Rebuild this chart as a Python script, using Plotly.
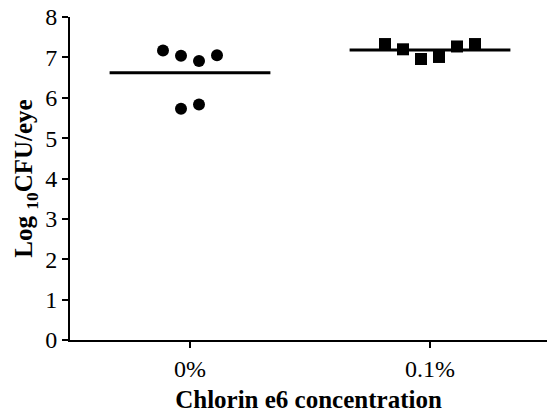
import plotly.graph_objects as go

# Data
categories = ["0%", "0.1%"]
ctrl_values = [7.17, 7.04, 6.91, 7.05, 5.73, 5.83]
ce6_values = [7.33, 7.20, 6.96, 7.01, 7.27, 7.33]
y_ticks = [0, 1, 2, 3, 4, 5, 6, 7, 8]

# beeswarm-like horizontal placement (layout only)
step = 0.075
ctrl_slots = [-1.5, -0.5, 0.5, 1.5, -0.5, 0.5]
ce6_slots = [-2.5, -1.5, -0.5, 0.5, 1.5, 2.5]

FONT = "Liberation Serif, Times New Roman, serif"

fig = go.Figure()
fig.add_trace(go.Scatter(
    x=[0 + s * step for s in ctrl_slots], y=ctrl_values, mode="markers",
    marker=dict(symbol="circle", size=12, color="black"), showlegend=False))
fig.add_trace(go.Scatter(
    x=[1 + s * step for s in ce6_slots], y=ce6_values, mode="markers",
    marker=dict(symbol="square", size=12, color="black"), showlegend=False))

half = 0.335
for i, vals in enumerate([ctrl_values, ce6_values]):
    m = sum(vals) / len(vals)
    fig.add_trace(go.Scatter(x=[i - half, i + half], y=[m, m], mode="lines",
                             line=dict(color="black", width=3), showlegend=False,
                             hoverinfo="skip"))

fig.update_layout(
    width=547, height=414,
    margin=dict(l=70, r=0, t=17, b=74),
    plot_bgcolor="white", paper_bgcolor="white",
    font=dict(family=FONT, color="black", size=24),
    xaxis=dict(range=[-0.5, 1.4875], tickvals=[0, 1], ticktext=categories,
               showline=True, linecolor="black", linewidth=2,
               ticks="outside", ticklen=6, tickwidth=2, tickcolor="black",
               showgrid=False, zeroline=False, automargin=False,
               tickfont=dict(family=FONT, size=24),
               title=dict(text="<b>Chlorin e6 concentration</b>",
                          font=dict(family=FONT, size=25), standoff=10)),
    yaxis=dict(range=[0, 8], tickvals=y_ticks,
               showline=True, linecolor="black", linewidth=2,
               ticks="outside", ticklen=6, tickwidth=2, tickcolor="black",
               showgrid=False, zeroline=False, automargin=False,
               tickfont=dict(family=FONT, size=24),
               title=dict(text="<b>Log <sub>10</sub>CFU/eye</b>",
                          font=dict(family=FONT, size=25), standoff=5)),
)

fig.write_html("out.html", config={"displayModeBar": False},
               post_script="document.body.style.margin='0';document.body.style.overflow='hidden';")
